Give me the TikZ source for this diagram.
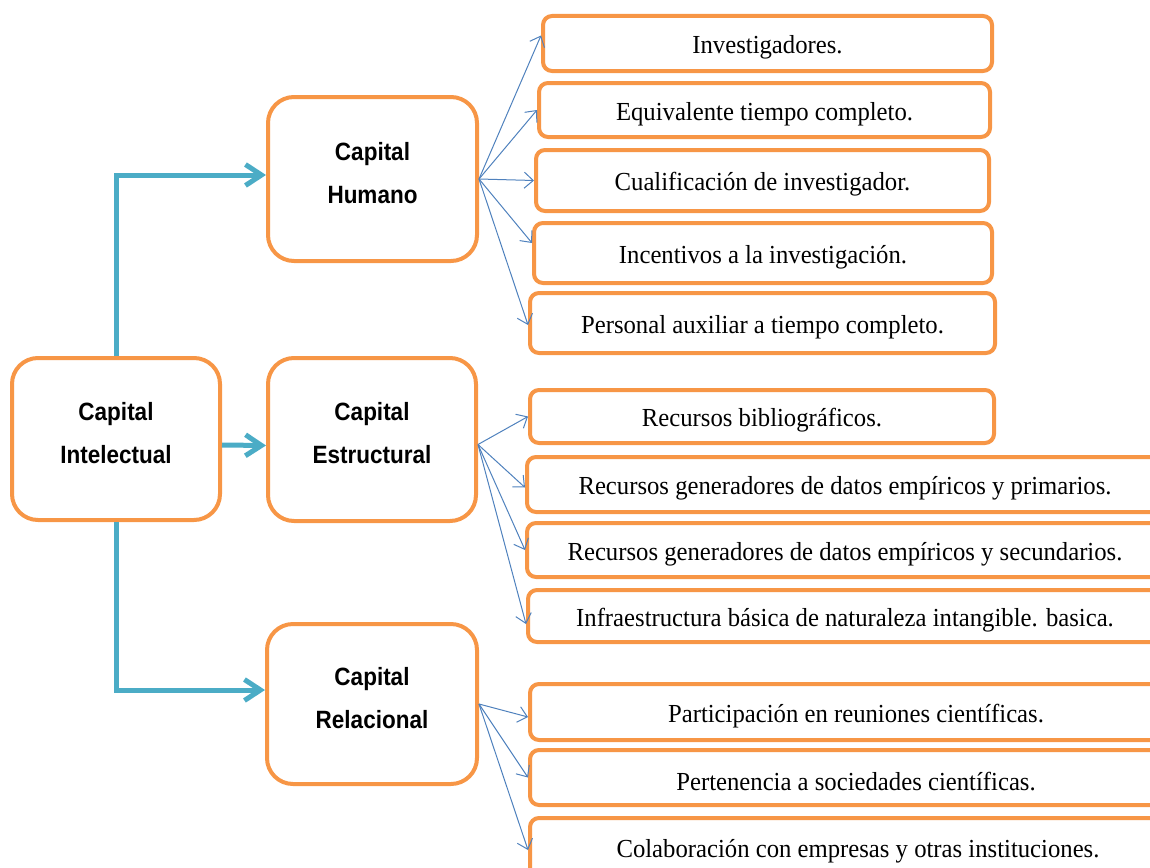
\documentclass[tikz,border=0pt]{standalone}
\usepackage{fontspec}
\usetikzlibrary{arrows.meta}
\newfontfamily\headfont[FakeStretch=0.9]{Liberation Sans}
\newfontfamily\itemfont[FakeStretch=0.95]{Liberation Serif}
\definecolor{boxorange}{HTML}{F79646}
\definecolor{teal}{HTML}{4BACC6}
\definecolor{thinblue}{HTML}{4F81BD}
\tikzset{
  mainbox/.style={draw=boxorange, line width=4pt, rounded corners=26pt, fill=white,
    align=center, font=\headfont\bfseries\fontsize{25}{43}\selectfont, inner sep=0pt},
  leafbox/.style={draw=boxorange, line width=4pt, rounded corners=9pt, fill=white,
    font=\itemfont\fontsize{26}{30}\selectfont, inner sep=0pt},
  thick link/.style={draw=teal, line width=5pt,
    -{Straight Barb[length=16pt,width=21pt,line width=5pt]}},
  thin link/.style={draw=thinblue, line width=1pt,
    -{Straight Barb[length=9pt,width=16pt,line width=1pt]}}
}
% boxes given by their corners: {name}{x1}{y1}{x2}{y2}{text}
% (text is shifted inside a box of unchanged size)
\newcommand\mainnode[6]{%
  \node[mainbox, minimum width={(#4-#2)*1pt}, minimum height={(#5-#3)*1pt}]
    (#1) at ({(#2+#4)/2},{(#3+#5)/2})
    {\raisebox{6pt}[\height][\depth]{\begin{tabular}{@{}c@{}}#6\end{tabular}}};}
\newcommand\leafnode[6]{%
  \node[leafbox, minimum width={(#4-#2)*1pt}, minimum height={(#5-#3)*1pt}]
    (#1) at ({(#2+#4)/2},{(#3+#5)/2}) {\raisebox{-4pt}[\height][\depth]{#6}};}
\begin{document}
\begin{tikzpicture}[x=1pt,y=-1pt]
\useasboundingbox (0,0) rectangle (1150,867);
\clip (0,0) rectangle (1150,867);

% main column
\mainnode{ci}{12}{358}{220}{520}{Capital\\Intelectual}
\mainnode{hum}{268}{97}{477}{261}{Capital\\Humano}
\mainnode{est}{268}{358}{476}{521}{Capital\\Estructural}
\mainnode{rel}{267}{624}{477}{784}{Capital\\Relacional}

% human capital items
\leafnode{h1}{543}{16}{992}{71}{Investigadores.}
\leafnode{h2}{539}{83}{990}{137}{Equivalente tiempo completo.}
\leafnode{h3}{536}{150}{989}{211}{Cualificación de investigador.}
\leafnode{h4}{534}{223}{992}{283}{Incentivos a la investigación.}
\leafnode{h5}{530}{293}{995}{353}{Personal auxiliar a tiempo completo.}

% structural capital items
\leafnode{s1}{530}{390}{994}{443}{Recursos bibliográficos.}
\leafnode{s2}{527}{457}{1163}{512}{Recursos generadores de datos empíricos y primarios.}
\leafnode{s3}{527}{523}{1163}{577}{Recursos generadores de datos empíricos y secundarios.}
\leafnode{s4}{528}{590}{1162}{642}{Infraestructura básica de naturaleza intangible. basica.}

% relational capital items
\leafnode{r1}{530}{684}{1182}{740}{Participación en reuniones científicas.}
\leafnode{r2}{530}{750}{1182}{805}{Pertenencia a sociedades científicas.}
\leafnode{r3}{530}{818}{1186}{876}{Colaboración con empresas y otras instituciones.}

% thick connectors from the root
\draw[thick link] (ci.north) |- ([yshift=4pt]hum.west);
\draw[thick link] ([yshift=-6pt]ci.east) -- ([yshift=-6pt]est.west);
\draw[thick link] (ci.south) |- ([yshift=14pt]rel.west);

% thin fan-out arrows
\draw[thin link] (hum.east) -- ([yshift=8pt]h1.west);
\draw[thin link] (hum.east) -- (h2.west);
\draw[thin link] (hum.east) -- (h3.west);
\draw[thin link] (hum.east) -- ([yshift=10pt]h4.west);
\draw[thin link] (hum.east) -- ([yshift=-2pt]h5.west);

\draw[thin link] ([yshift=-5pt]est.east) -- (s1.west);
\draw[thin link] ([yshift=-5pt]est.east) -- ([yshift=-3pt]s2.west);
\draw[thin link] ([yshift=-5pt]est.east) -- (s3.west);
\draw[thin link] ([yshift=-5pt]est.east) -- ([yshift=-8pt]s4.west);

\draw[thin link] (rel.east) -- ([yshift=-5pt]r1.west);
\draw[thin link] (rel.east) -- (r2.west);
\draw[thin link] (rel.east) -- ([yshift=-3pt]r3.west);
\end{tikzpicture}
\end{document}
